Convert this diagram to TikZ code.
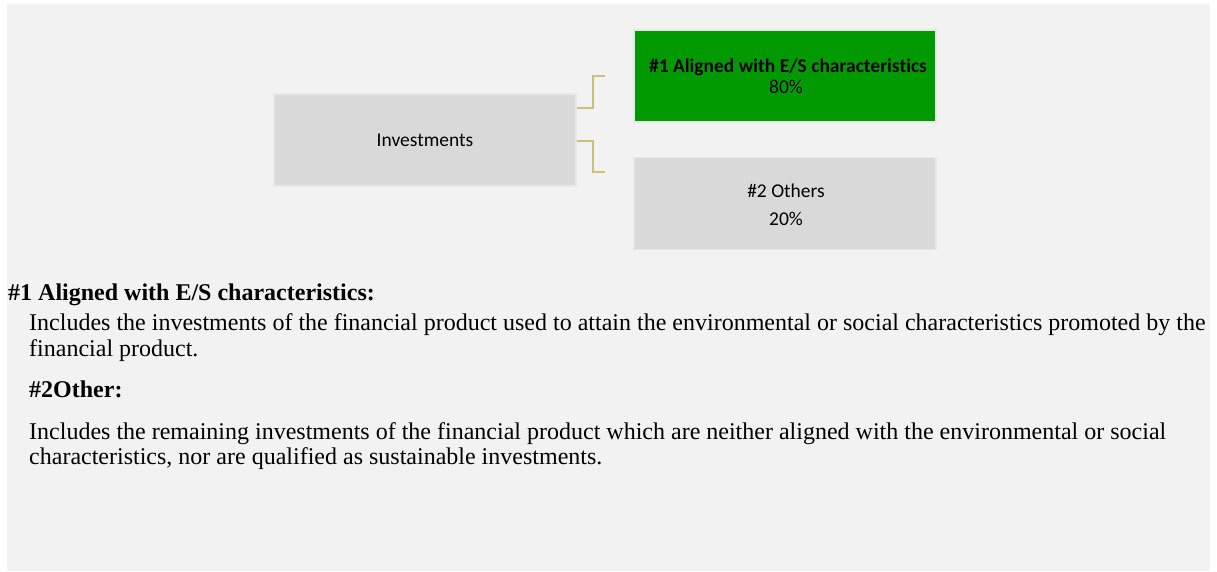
\documentclass[tikz,border=0pt]{standalone}
\usepackage{fontspec}
\setmainfont{Liberation Serif}
\newfontfamily\carl[Ligatures=NoCommon]{Carlito}
\definecolor{bgray}{RGB}{242,242,242}
\definecolor{boxgray}{RGB}{217,217,217}
\definecolor{boxedge}{RGB}{232,232,232}
\definecolor{esgreen}{RGB}{0,153,0}
\definecolor{khaki}{RGB}{201,192,122}
\tikzset{
  box/.style={draw=boxedge, line width=1.5pt, fill=boxgray, minimum width=302pt, minimum height=92pt, inner sep=0pt},
  greenbox/.style={box, fill=esgreen},
  boxtext/.style={anchor=base, inner sep=0pt, font=\carl\fontsize{19.5}{22}\selectfont},
  boxbold/.style={boxtext, font=\carl\bfseries\fontsize{19.5}{22}\selectfont},
  conn/.style={draw=khaki, line width=2pt},
  body/.style={anchor=base west, inner sep=0pt, font=\fontsize{24}{28}\selectfont},
  head/.style={body, font=\bfseries\fontsize{24}{28}\selectfont},
}
\begin{document}
\begin{tikzpicture}[x=1pt,y=-1pt]
\useasboundingbox (0,0) rectangle (1217,571);
\fill[white] (0,0) rectangle (1217,571);
\fill[bgray] (7,4) rectangle (1210,571);
\node[box] (inv) at (425,140) {};
\node[greenbox] (g) at (785,76) {};
\node[box] (o) at (785,203.5) {};
\node[boxtext] (invt) at (425,146) {Investments};
\node[boxbold] (g1) at (788,72) {\#1 Aligned with E/S characteristics};
\node[boxtext] (g2) at (786,93) {80\%};
\node[boxtext] (o1) at (786,197) {\#2 Others};
\node[boxtext] (o2) at (786,225) {20\%};
\coordinate (c1) at (605,76);
\coordinate (c2) at (605,172);
\draw[conn] ([yshift=32pt]inv.east) -- ++(16,0) |- (c1);
\draw[conn] ([yshift=-1pt]inv.east) -- ++(16,0) |- (c2);
\node[head] (h1) at (8,300) {\#1 Aligned with E/S characteristics:};
\node[body] (t1) at (29,330) {Includes the investments of the financial product used to attain the environmental or social characteristics promoted by the};
\node[body] (t2) at (29,356) {financial product.};
\node[head] (h2) at (29,397) {\#2Other:};
\node[body] (t3) at (29,439) {Includes the remaining investments of the financial product which are neither aligned with the environmental or social};
\node[body] (t4) at (29,464) {characteristics, nor are qualified as sustainable investments.};
\end{tikzpicture}
\end{document}
